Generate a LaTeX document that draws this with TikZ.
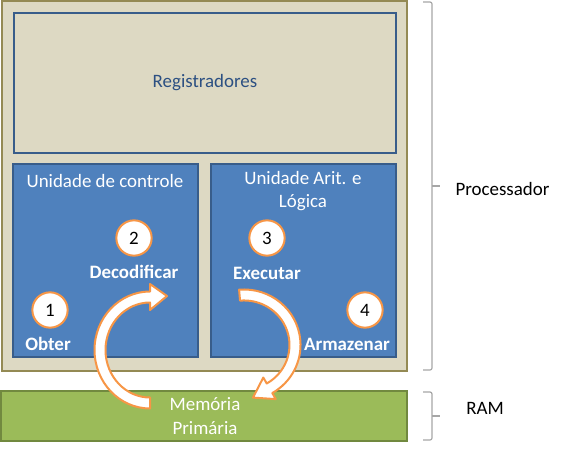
\documentclass[tikz,border=0pt]{standalone}
\usepackage{fontspec}
\setmainfont{Carlito}

\definecolor{beige}{HTML}{DDD9C3}
\definecolor{olive}{HTML}{948A54}
\definecolor{unitblue}{HTML}{4F81BD}
\definecolor{unitedge}{HTML}{385D8A}
\definecolor{regtext}{HTML}{2C5082}
\definecolor{memgreen}{HTML}{9BBB59}
\definecolor{memedge}{HTML}{71893F}
\definecolor{stepedge}{HTML}{F79646}
\definecolor{bracegray}{HTML}{A6A6A6}

\tikzset{every picture/.style={line width=0.75pt},
  txt/.style={inner sep=0.75pt, align=center, font=\fontsize{14.2}{17.5}\selectfont},
  procbox/.style={draw=olive, fill=beige, line width=1.5pt},
  regbox/.style={draw=unitedge, fill=beige, line width=1.5pt},
  unitbox/.style={draw=unitedge, fill=unitblue, line width=1.5pt},
  membox/.style={draw=memedge, fill=memgreen, line width=1.5pt},
  stepcircle/.style={txt, circle, draw=stepedge, fill=white, line width=1.5pt, minimum size=26.5pt, inner sep=0pt},
  steplabel/.style={txt, text=white, font=\fontsize{14.2}{17.5}\selectfont\bfseries},
  bigarrow/.style={draw=stepedge, fill=white, line width=1.5pt, line join=round},
  bracket/.style={draw=bracegray, line width=0.9pt, rounded corners=1.5pt}
}

\begin{document}
\begin{tikzpicture}[x=0.75pt,y=0.75pt,yscale=-1,xscale=1]
\useasboundingbox (0,0) rectangle (561,450);

%Shape: Rectangle [processador]
\draw [procbox] (2,1) rectangle (407,371) ;
%Shape: Rectangle [registradores]
\draw [regbox] (14,13) rectangle (396,153) ;
%Shape: Rectangle [unidade de controle]
\draw [unitbox] (13,164) rectangle (198,357) ;
%Shape: Rectangle [ULA]
\draw [unitbox] (211,164) rectangle (396,357) ;
%Shape: Rectangle [memoria]
\draw [membox] (1,391) rectangle (407,441) ;

% Text Node
\node [txt, text=regtext] (reg) at (205,83) {Registradores};
% Text Node
\node [txt, text=white] (cu) at (105,181) {Unidade de controle};
% Text Node
\node [txt, text=white] (alu) at (303,191) {Unidade Arit. e\\Lógica};
% Text Node
\node [txt, text=white] (mem) at (205,416) {Memória\\Primária};

% Steps
\node [stepcircle] (c1) at (50,310) {1};
\node [stepcircle] (c2) at (134,238) {2};
\node [stepcircle] (c3) at (267,238) {3};
\node [stepcircle] (c4) at (365,310) {4};
\node [steplabel] (obter) at (48,344) {Obter};
\node [steplabel] (decod) at (134,272) {Decodificar};
\node [steplabel] (exec) at (267,273) {Executar};
\node [steplabel] (armaz) at (347,344) {Armazenar};

%Curved Arrow [memoria -> decodificar]
\path [bigarrow] (150,408.5) arc [start angle=90, end angle=270, x radius=55.5, y radius=58.5] -- (150,284) -- (167,296) -- (150,310) -- (150,302.5) arc [start angle=270, end angle=90, x radius=44.5, y radius=47.5] -- cycle ;
%Curved Arrow [executar -> memoria]
\path [bigarrow] (239.1,289.7) arc [start angle=-95, end angle=60, x radius=56.5, y radius=55.5] -- (275.8,399.1) -- (253,397.6) -- (263.3,377.5) -- (266.75,383.5) arc [start angle=60, end angle=-95, x radius=45.5, y radius=44.5] -- cycle ;

%Brace [processador]
\coordinate (pb) at (432,186);
\draw [bracket] (423,2) -- (432,2) -- (432,370) -- (423,370) ;
\draw [bracket] (pb) -- (440,186) ;
%Brace [RAM]
\coordinate (rb) at (432,416);
\draw [bracket] (423,392) -- (432,392) -- (432,440) -- (423,440) ;
\draw [bracket] (rb) -- (440,416) ;

% Text Node
\node [txt, anchor=west] (proclabel) at (454,189) {Processador};
% Text Node
\node [txt] (ramlabel) at (485,408) {RAM};

\end{tikzpicture}
\end{document}
